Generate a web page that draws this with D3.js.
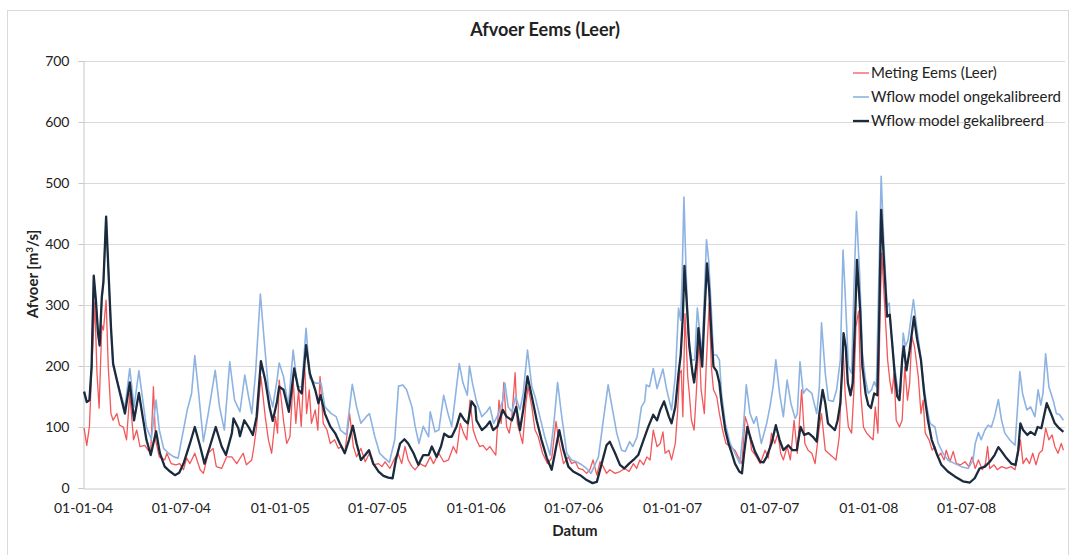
<!DOCTYPE html>
<html>
<head>
<meta charset="utf-8">
<script src="https://cdn.jsdelivr.net/npm/d3@7"></script>
<style>
  body { margin: 0; background: #fff; }
  text { font-family: Lato, "Open Sans", sans-serif; fill: #222; }
</style>
</head>
<body>
<svg id="chart"></svg>
<script>
// measured flow, Eems at Leer [m3/s]
var meting = [
  ["2004-01-03",98],["2004-01-08",70],["2004-01-13",101],["2004-01-17",190],["2004-01-23",305],["2004-01-27",188],
  ["2004-01-31",131],["2004-02-05",267],["2004-02-08",259],["2004-02-13",308],["2004-02-17",199],["2004-02-22",122],
  ["2004-02-26",111],["2004-03-04",122],["2004-03-09",103],["2004-03-16",100],["2004-03-22",79],["2004-03-28",155],
  ["2004-04-04",79],["2004-04-10",95],["2004-04-16",68],["2004-04-25",70],["2004-05-01",62],["2004-05-06",60],
  ["2004-05-11",166],["2004-05-15",79],["2004-05-22",51],["2004-06-01",46],["2004-06-05",57],["2004-06-13",40],
  ["2004-06-22",38],["2004-06-29",40],["2004-07-06",30],["2004-07-12",49],["2004-07-18",40],["2004-07-27",57],
  ["2004-08-06",30],["2004-08-12",24],["2004-08-21",57],["2004-08-30",65],["2004-09-05",35],["2004-09-15",32],
  ["2004-09-24",51],["2004-10-04",51],["2004-10-13",40],["2004-10-25",57],["2004-10-31",38],["2004-11-10",46],
  ["2004-11-14",68],["2004-11-19",101],["2004-11-27",183],["2004-12-05",117],["2004-12-11",79],["2004-12-17",57],
  ["2004-12-24",117],["2004-12-28",90],["2004-12-31",177],
  ["2005-01-08",111],["2005-01-14",73],["2005-01-20",84],["2005-01-26",177],["2005-01-31",106],["2005-02-05",161],
  ["2005-02-10",101],["2005-02-16",210],["2005-02-20",122],["2005-02-25",161],["2005-03-01",106],["2005-03-08",128],
  ["2005-03-13",95],["2005-03-17",183],["2005-03-23",106],["2005-03-30",95],["2005-04-05",73],["2005-04-13",79],
  ["2005-04-20",65],["2005-04-27",68],["2005-05-02",57],["2005-05-11",122],["2005-05-18",68],["2005-05-24",51],
  ["2005-06-01",65],["2005-06-09",43],["2005-06-17",57],["2005-06-24",38],["2005-07-04",40],["2005-07-10",35],
  ["2005-07-16",43],["2005-07-25",32],["2005-08-03",49],["2005-08-09",57],["2005-08-16",40],["2005-08-22",68],
  ["2005-08-28",46],["2005-09-04",35],["2005-09-10",30],["2005-09-19",40],["2005-09-29",35],["2005-10-08",51],
  ["2005-10-14",40],["2005-10-24",57],["2005-11-02",43],["2005-11-11",46],["2005-11-20",68],["2005-11-26",57],
  ["2005-12-03",106],["2005-12-09",90],["2005-12-15",79],["2005-12-21",144],["2005-12-27",95],
  ["2006-01-02",79],["2006-01-08",68],["2006-01-14",70],["2006-01-21",62],["2006-01-27",68],["2006-02-02",60],
  ["2006-02-07",54],["2006-02-13",144],["2006-02-17",106],["2006-02-22",173],["2006-02-27",101],["2006-03-04",90],
  ["2006-03-09",117],["2006-03-15",189],["2006-03-19",106],["2006-03-24",90],["2006-03-29",73],["2006-04-04",139],
  ["2006-04-08",166],["2006-04-15",133],["2006-04-21",95],["2006-04-27",84],["2006-05-05",57],["2006-05-14",40],
  ["2006-05-22",49],["2006-05-30",109],["2006-06-05",73],["2006-06-13",40],["2006-06-22",51],["2006-06-28",40],
  ["2006-07-05",43],["2006-07-11",32],["2006-07-19",30],["2006-07-26",24],["2006-08-01",30],["2006-08-07",46],
  ["2006-08-14",21],["2006-08-20",43],["2006-08-26",35],["2006-09-01",24],["2006-09-07",30],["2006-09-17",24],
  ["2006-09-26",27],["2006-10-05",32],["2006-10-13",27],["2006-10-21",40],["2006-10-27",32],["2006-11-02",46],
  ["2006-11-09",38],["2006-11-15",51],["2006-11-21",46],["2006-11-27",95],["2006-12-04",68],["2006-12-10",73],
  ["2006-12-15",92],["2006-12-19",57],["2006-12-26",62],["2006-12-31",46],
  ["2007-01-07",73],["2007-01-11",122],["2007-01-15",188],["2007-01-18",193],["2007-01-21",117],["2007-01-25",286],
  ["2007-01-30",183],["2007-02-02",155],["2007-02-06",111],["2007-02-11",95],["2007-02-15",155],["2007-02-20",248],
  ["2007-02-24",161],["2007-03-02",122],["2007-03-06",210],["2007-03-11",303],["2007-03-15",199],["2007-03-19",161],
  ["2007-03-25",150],["2007-03-30",122],["2007-04-05",95],["2007-04-11",73],["2007-04-19",68],["2007-04-28",62],
  ["2007-05-04",51],["2007-05-11",40],["2007-05-17",117],["2007-05-23",100],["2007-05-29",62],["2007-06-07",51],
  ["2007-06-14",40],["2007-06-23",62],["2007-06-29",49],["2007-07-05",90],["2007-07-11",73],["2007-07-17",90],
  ["2007-07-22",57],["2007-07-27",46],["2007-08-03",68],["2007-08-09",46],["2007-08-16",111],["2007-08-22",57],
  ["2007-08-30",161],["2007-09-05",73],["2007-09-11",62],["2007-09-18",57],["2007-09-24",40],["2007-10-02",100],
  ["2007-10-06",122],["2007-10-13",62],["2007-10-19",57],["2007-10-27",51],["2007-11-02",46],["2007-11-08",84],
  ["2007-11-15",232],["2007-11-19",155],["2007-11-25",100],["2007-12-01",90],["2007-12-05",155],["2007-12-09",264],
  ["2007-12-14",290],["2007-12-18",155],["2007-12-23",100],["2007-12-29",90],
  ["2008-01-04",84],["2008-01-10",79],["2008-01-14",133],["2008-01-19",90],["2008-01-23",292],["2008-01-26",385],
  ["2008-02-01",292],["2008-02-06",210],["2008-02-10",177],["2008-02-14",155],["2008-02-18",188],["2008-02-22",111],
  ["2008-02-28",100],["2008-03-04",111],["2008-03-09",199],["2008-03-14",144],["2008-03-18",172],["2008-03-22",248],
  ["2008-03-27",232],["2008-04-03",183],["2008-04-08",122],["2008-04-12",144],["2008-04-16",90],["2008-04-23",79],
  ["2008-04-29",62],["2008-05-04",68],["2008-05-09",51],["2008-05-15",57],["2008-05-21",46],["2008-05-25",62],
  ["2008-06-01",43],["2008-06-07",60],["2008-06-13",40],["2008-06-21",38],["2008-06-29",43],["2008-07-06",35],
  ["2008-07-12",51],["2008-07-18",32],["2008-07-24",46],["2008-07-31",30],["2008-08-06",40],["2008-08-10",68],
  ["2008-08-14",32],["2008-08-22",38],["2008-08-28",30],["2008-09-05",35],["2008-09-14",32],["2008-09-23",35],
  ["2008-09-30",30],["2008-10-06",57],["2008-10-10",79],["2008-10-15",40],["2008-10-21",49],["2008-10-27",40],
  ["2008-11-02",57],["2008-11-08",38],["2008-11-14",57],["2008-11-20",62],["2008-11-26",98],["2008-12-02",79],
  ["2008-12-08",87],["2008-12-13",68],["2008-12-19",57],["2008-12-25",73],["2008-12-29",62]
];

// Wflow, not calibrated
var ongekalibreerd = [
  ["2004-01-03",158],["2004-01-08",141],["2004-01-13",144],["2004-01-17",199],["2004-01-21",345],["2004-01-25",305],
  ["2004-01-29",250],["2004-02-01",232],["2004-02-05",310],["2004-02-08",335],["2004-02-13",445],["2004-02-17",360],
  ["2004-02-22",262],["2004-02-26",200],["2004-03-10",158],["2004-03-19",131],["2004-03-28",196],["2004-04-05",133],
  ["2004-04-14",192],["2004-04-22",139],["2004-04-28",100],["2004-05-07",80],["2004-05-16",144],["2004-05-22",95],
  ["2004-05-30",65],["2004-06-08",57],["2004-06-18",51],["2004-06-26",49],["2004-06-30",68],["2004-07-13",128],
  ["2004-07-21",155],["2004-07-27",217],["2004-08-02",166],["2004-08-12",76],["2004-08-21",122],["2004-09-03",193],
  ["2004-09-11",133],["2004-09-20",95],["2004-09-30",207],["2004-10-09",144],["2004-10-19",125],["2004-10-28",185],
  ["2004-11-04",150],["2004-11-10",122],["2004-11-17",188],["2004-11-26",318],["2004-12-03",243],["2004-12-11",161],
  ["2004-12-19",133],["2004-12-27",177],["2004-12-31",205],
  ["2005-01-08",183],["2005-01-17",133],["2005-01-26",226],["2005-02-03",166],["2005-02-11",166],["2005-02-19",262],
  ["2005-02-26",180],["2005-03-08",172],["2005-03-19",172],["2005-03-26",133],["2005-04-07",122],["2005-04-16",117],
  ["2005-04-24",95],["2005-05-05",87],["2005-05-16",170],["2005-05-24",133],["2005-06-01",106],["2005-06-11",117],
  ["2005-06-17",122],["2005-06-27",84],["2005-07-06",57],["2005-07-15",49],["2005-07-24",42],["2005-08-03",79],
  ["2005-08-10",167],["2005-08-18",169],["2005-08-25",161],["2005-09-04",133],["2005-09-10",101],["2005-09-17",73],
  ["2005-09-25",101],["2005-10-05",84],["2005-10-08",125],["2005-10-17",92],["2005-10-24",95],["2005-11-02",152],
  ["2005-11-10",122],["2005-11-17",101],["2005-11-23",144],["2005-12-01",204],["2005-12-08",172],["2005-12-16",152],
  ["2005-12-20",200],["2005-12-26",170],
  ["2006-01-02",142],["2006-01-12",117],["2006-01-21",125],["2006-01-27",133],["2006-02-03",106],["2006-02-11",120],
  ["2006-02-20",144],["2006-02-24",172],["2006-03-02",133],["2006-03-09",125],["2006-03-16",150],["2006-03-24",128],
  ["2006-03-30",155],["2006-04-07",226],["2006-04-15",166],["2006-04-21",150],["2006-04-30",117],["2006-05-09",84],
  ["2006-05-19",54],["2006-05-26",106],["2006-06-02",173],["2006-06-09",122],["2006-06-19",57],["2006-06-28",46],
  ["2006-07-07",43],["2006-07-17",38],["2006-07-26",32],["2006-08-03",24],["2006-08-09",35],["2006-08-17",51],
  ["2006-08-26",111],["2006-09-04",169],["2006-09-10",139],["2006-09-20",90],["2006-09-29",62],["2006-10-06",60],
  ["2006-10-14",76],["2006-10-20",68],["2006-10-28",84],["2006-11-05",133],["2006-11-11",142],["2006-11-14",169],
  ["2006-11-20",166],["2006-11-27",196],["2006-12-04",163],["2006-12-15",195],["2006-12-22",161],["2006-12-31",128],
  ["2007-01-07",183],["2007-01-13",295],["2007-01-17",275],["2007-01-20",357],["2007-01-23",477],["2007-01-27",357],
  ["2007-01-31",254],["2007-02-06",210],["2007-02-12",210],["2007-02-17",295],["2007-02-23",243],["2007-02-26",221],
  ["2007-03-06",407],["2007-03-10",374],["2007-03-15",292],["2007-03-19",218],["2007-03-25",218],["2007-03-30",210],
  ["2007-04-03",155],["2007-04-10",106],["2007-04-19",73],["2007-04-28",57],["2007-05-07",40],["2007-05-13",90],
  ["2007-05-19",169],["2007-05-26",122],["2007-06-02",106],["2007-06-07",117],["2007-06-16",73],["2007-06-26",106],
  ["2007-07-02",133],["2007-07-08",166],["2007-07-13",210],["2007-07-20",155],["2007-07-27",117],["2007-08-03",177],
  ["2007-08-10",139],["2007-08-18",114],["2007-08-22",122],["2007-08-27",207],["2007-09-02",155],["2007-09-08",163],
  ["2007-09-18",155],["2007-09-27",122],["2007-10-02",166],["2007-10-06",271],["2007-10-13",188],["2007-10-19",144],
  ["2007-10-28",142],["2007-11-03",161],["2007-11-10",210],["2007-11-15",390],["2007-11-19",319],["2007-11-25",199],
  ["2007-12-01",188],["2007-12-05",319],["2007-12-10",453],["2007-12-16",350],["2007-12-21",221],["2007-12-27",177],
  ["2008-01-01",155],["2008-01-07",161],["2008-01-12",174],["2008-01-16",166],["2008-01-20",319],["2008-01-25",511],
  ["2008-01-30",401],["2008-02-05",297],["2008-02-09",303],["2008-02-13",248],["2008-02-19",199],["2008-02-25",161],
  ["2008-03-01",155],["2008-03-06",254],["2008-03-10",232],["2008-03-15",243],["2008-03-20",275],["2008-03-25",309],
  ["2008-03-31",264],["2008-04-06",226],["2008-04-12",177],["2008-04-19",133],["2008-04-25",106],["2008-05-04",100],
  ["2008-05-10",73],["2008-05-19",57],["2008-05-28",46],["2008-06-10",40],["2008-06-22",35],["2008-07-05",32],
  ["2008-07-14",46],["2008-07-18",73],["2008-07-24",91],["2008-07-29",79],["2008-08-05",95],["2008-08-11",103],
  ["2008-08-17",100],["2008-08-23",117],["2008-08-30",145],["2008-09-05",111],["2008-09-11",90],["2008-09-20",79],
  ["2008-09-30",70],["2008-10-04",122],["2008-10-09",191],["2008-10-14",155],["2008-10-22",128],["2008-10-29",133],
  ["2008-11-06",117],["2008-11-12",161],["2008-11-17",136],["2008-11-21",155],["2008-11-26",220],["2008-12-02",166],
  ["2008-12-10",144],["2008-12-16",122],["2008-12-22",120],["2008-12-29",111]
];

// Wflow, calibrated
var gekalibreerd = [
  ["2004-01-03",158],["2004-01-08",141],["2004-01-13",144],["2004-01-17",199],["2004-01-21",348],["2004-01-25",308],
  ["2004-01-29",254],["2004-02-01",234],["2004-02-05",313],["2004-02-08",338],["2004-02-13",445],["2004-02-17",363],
  ["2004-02-22",264],["2004-02-26",204],["2004-03-04",177],["2004-03-10",155],["2004-03-19",122],["2004-03-28",173],
  ["2004-04-05",111],["2004-04-14",156],["2004-04-21",117],["2004-04-28",79],["2004-05-06",54],["2004-05-16",93],
  ["2004-05-23",57],["2004-06-01",35],["2004-06-11",27],["2004-06-20",21],["2004-06-28",25],["2004-07-06",40],
  ["2004-07-18",73],["2004-07-27",100],["2004-08-06",68],["2004-08-14",40],["2004-08-24",68],["2004-09-04",100],
  ["2004-09-15",68],["2004-09-23",54],["2004-10-04",90],["2004-10-07",114],["2004-10-16",98],["2004-10-19",85],
  ["2004-10-27",111],["2004-11-04",100],["2004-11-12",87],["2004-11-19",117],["2004-11-27",208],["2004-12-05",177],
  ["2004-12-13",133],["2004-12-19",110],["2004-12-27",142],["2004-12-31",166],
  ["2005-01-08",161],["2005-01-18",125],["2005-01-28",196],["2005-02-05",161],["2005-02-11",155],["2005-02-19",234],
  ["2005-02-26",188],["2005-03-08",161],["2005-03-14",139],["2005-03-18",152],["2005-03-26",122],["2005-04-05",101],
  ["2005-04-14",90],["2005-04-23",73],["2005-05-02",57],["2005-05-10",79],["2005-05-17",102],["2005-05-24",73],
  ["2005-06-01",46],["2005-06-09",54],["2005-06-16",62],["2005-06-24",40],["2005-07-04",27],["2005-07-13",20],
  ["2005-07-22",17],["2005-07-30",16],["2005-08-05",46],["2005-08-13",73],["2005-08-21",80],["2005-08-28",73],
  ["2005-09-07",57],["2005-09-16",38],["2005-09-25",54],["2005-10-05",54],["2005-10-11",68],["2005-10-20",51],
  ["2005-10-28",68],["2005-11-03",89],["2005-11-11",84],["2005-11-17",84],["2005-11-26",101],["2005-12-03",122],
  ["2005-12-11",111],["2005-12-17",106],["2005-12-24",142],["2005-12-31",133],
  ["2006-01-02",111],["2006-01-12",95],["2006-01-20",101],["2006-01-27",109],["2006-02-02",95],["2006-02-10",101],
  ["2006-02-20",128],["2006-02-27",117],["2006-03-09",111],["2006-03-17",133],["2006-03-24",95],["2006-03-30",128],
  ["2006-04-07",183],["2006-04-15",150],["2006-04-24",111],["2006-05-03",79],["2006-05-13",49],["2006-05-22",30],
  ["2006-05-28",57],["2006-06-05",95],["2006-06-13",62],["2006-06-22",35],["2006-07-01",27],["2006-07-14",21],
  ["2006-07-26",13],["2006-08-06",8],["2006-08-14",10],["2006-08-23",40],["2006-09-01",70],["2006-09-07",76],
  ["2006-09-17",57],["2006-09-26",38],["2006-10-04",32],["2006-10-13",40],["2006-10-21",46],["2006-10-30",54],
  ["2006-11-09",79],["2006-11-18",101],["2006-11-27",120],["2006-12-04",111],["2006-12-10",128],["2006-12-17",142],
  ["2006-12-26",117],["2006-12-31",106],
  ["2007-01-07",133],["2007-01-13",188],["2007-01-17",218],["2007-01-21",281],["2007-01-24",364],["2007-01-28",308],
  ["2007-02-02",232],["2007-02-08",188],["2007-02-11",173],["2007-02-16",210],["2007-02-19",262],["2007-02-23",226],
  ["2007-02-26",199],["2007-03-02",281],["2007-03-07",368],["2007-03-11",325],["2007-03-15",254],["2007-03-19",199],
  ["2007-03-25",191],["2007-03-30",172],["2007-04-03",139],["2007-04-10",95],["2007-04-16",73],["2007-04-22",57],
  ["2007-04-28",40],["2007-05-06",27],["2007-05-11",24],["2007-05-15",57],["2007-05-21",100],["2007-05-28",79],
  ["2007-06-04",60],["2007-06-14",43],["2007-06-20",42],["2007-06-26",51],["2007-07-05",73],["2007-07-13",103],
  ["2007-07-20",79],["2007-07-27",62],["2007-08-05",70],["2007-08-13",62],["2007-08-21",62],["2007-08-28",100],
  ["2007-09-04",87],["2007-09-12",90],["2007-09-20",84],["2007-09-27",76],["2007-10-02",122],["2007-10-08",161],
  ["2007-10-13",139],["2007-10-18",106],["2007-10-25",100],["2007-10-31",95],["2007-11-05",111],["2007-11-10",139],
  ["2007-11-13",188],["2007-11-16",254],["2007-11-20",232],["2007-11-24",172],["2007-11-29",152],["2007-12-03",172],
  ["2007-12-07",264],["2007-12-11",374],["2007-12-17",290],["2007-12-21",199],["2007-12-27",155],
  ["2008-01-01",136],["2008-01-06",131],["2008-01-12",155],["2008-01-18",152],["2008-01-21",264],["2008-01-25",456],
  ["2008-01-30",374],["2008-02-05",281],["2008-02-10",284],["2008-02-15",232],["2008-02-19",188],["2008-02-24",150],
  ["2008-02-28",144],["2008-03-04",210],["2008-03-07",232],["2008-03-12",193],["2008-03-18",226],["2008-03-26",281],
  ["2008-04-01",243],["2008-04-08",210],["2008-04-14",155],["2008-04-21",111],["2008-04-28",79],["2008-05-07",57],
  ["2008-05-16",38],["2008-05-28",27],["2008-06-10",19],["2008-06-25",11],["2008-07-08",9],["2008-07-17",16],
  ["2008-07-26",32],["2008-08-05",35],["2008-08-14",43],["2008-08-23",54],["2008-08-30",67],["2008-09-05",60],
  ["2008-09-14",49],["2008-09-23",40],["2008-10-01",38],["2008-10-06",62],["2008-10-10",106],["2008-10-15",95],
  ["2008-10-23",87],["2008-10-29",92],["2008-11-06",87],["2008-11-11",100],["2008-11-18",98],["2008-11-28",139],
  ["2008-12-06",122],["2008-12-13",106],["2008-12-21",98],["2008-12-29",92]
];

var seriesNames = ["Meting Eems (Leer)", "Wflow model ongekalibreerd", "Wflow model gekalibreerd"];
var seriesColors = ["#f4575a", "#8db3e2", "#1b2a3c"];
var seriesWidths = [1.3, 1.6, 2.3];
var yTicks = [0, 100, 200, 300, 400, 500, 600, 700];
var xTickDates = ["2004-01-01","2004-07-01","2005-01-01","2005-07-01","2006-01-01",
                  "2006-07-01","2007-01-01","2007-07-01","2008-01-01","2008-07-01"];

var W = 1074, H = 555;
var margin = { top: 61, right: 9, bottom: 67, left: 83 };
var parse = d3.timeParse("%Y-%m-%d");

var svg = d3.select("#chart")
    .attr("width", W)
    .attr("height", H);

// chart frame
svg.append("rect")
    .attr("x", 7.5).attr("y", 10.5)
    .attr("width", 1061).attr("height", 560)
    .attr("fill", "#fff")
    .attr("stroke", "#d9d9d9");

var x = d3.scaleTime()
    .domain([parse("2004-01-01"), parse("2009-01-01")])
    .range([margin.left, W - margin.right]);

var y = d3.scaleLinear()
    .domain([0, 700])
    .range([H - margin.bottom, margin.top]);

// gridlines
svg.append("g")
    .selectAll("line")
    .data(yTicks.filter(function(d) { return d > 0; }))
    .enter()
    .append("line")
        .attr("x1", x.range()[0]).attr("x2", x.range()[1])
        .attr("y1", function(d) { return Math.round(y(d)) + 0.5; })
        .attr("y2", function(d) { return Math.round(y(d)) + 0.5; })
        .attr("stroke", "#d9d9d9")
        .attr("stroke-width", 1);

// y axis
var yAxis = svg.append("g")
    .attr("transform", "translate(" + (margin.left + 0.5) + ",0)")
    .call(d3.axisLeft(y).tickValues(yTicks).tickSize(5).tickPadding(9));
yAxis.select(".domain").attr("stroke", "#c8c8c8");
yAxis.selectAll(".tick line").attr("stroke", "#c8c8c8");
yAxis.selectAll(".tick text")
    .style("font-size", "14px")
    .attr("font-family", null)
    .attr("fill", "#222");

// x axis
var xAxis = svg.append("g")
    .attr("transform", "translate(0," + (Math.round(y(0)) + 0.5) + ")")
    .call(d3.axisBottom(x)
        .tickValues(xTickDates.map(parse))
        .tickFormat(d3.timeFormat("%d-%m-%y"))
        .tickSize(0)
        .tickPadding(15)
        .tickSizeOuter(0));
xAxis.select(".domain").attr("stroke", "#c8c8c8");
xAxis.selectAll(".tick text")
    .style("font-size", "14px")
    .attr("font-family", null)
    .attr("fill", "#222");

// lines
var line = d3.line()
    .x(function(d) { return x(parse(d[0])); })
    .y(function(d) { return y(d[1]); });

[meting, ongekalibreerd, gekalibreerd].forEach(function(data, i) {
    svg.append("path")
        .datum(data)
        .attr("fill", "none")
        .attr("stroke", seriesColors[i])
        .attr("stroke-width", seriesWidths[i])
        .attr("stroke-linejoin", "round")
        .attr("d", line);
});

// title
svg.append("text")
    .attr("x", 545).attr("y", 36)
    .attr("text-anchor", "middle")
    .style("font-size", "18px")
    .style("font-weight", "bold")
    .text("Afvoer Eems (Leer)");

// axis titles
svg.append("text")
    .attr("x", 575).attr("y", 536)
    .attr("text-anchor", "middle")
    .style("font-size", "15px")
    .style("font-weight", "bold")
    .text("Datum");

var yTitle = svg.append("text")
    .attr("transform", "translate(38,274) rotate(-90)")
    .attr("text-anchor", "middle")
    .style("font-size", "15px")
    .style("font-weight", "bold");
yTitle.append("tspan").text("Afvoer [m");
yTitle.append("tspan").attr("dy", -5).style("font-size", "10px").text("3");
yTitle.append("tspan").attr("dy", 5).text("/s]");

// legend
var legend = svg.append("g")
    .selectAll("g")
    .data(seriesNames)
    .enter()
    .append("g")
        .attr("transform", function(d, i) { return "translate(853," + (73 + i * 24) + ")"; });
legend.append("line")
    .attr("x1", 0).attr("x2", 16)
    .attr("stroke", function(d, i) { return seriesColors[i]; })
    .attr("stroke-width", function(d, i) { return seriesWidths[i]; });
legend.append("text")
    .attr("x", 18)
    .attr("dy", "0.35em")
    .style("font-size", "15px")
    .text(function(d) { return d; });
</script>
</body>
</html>
